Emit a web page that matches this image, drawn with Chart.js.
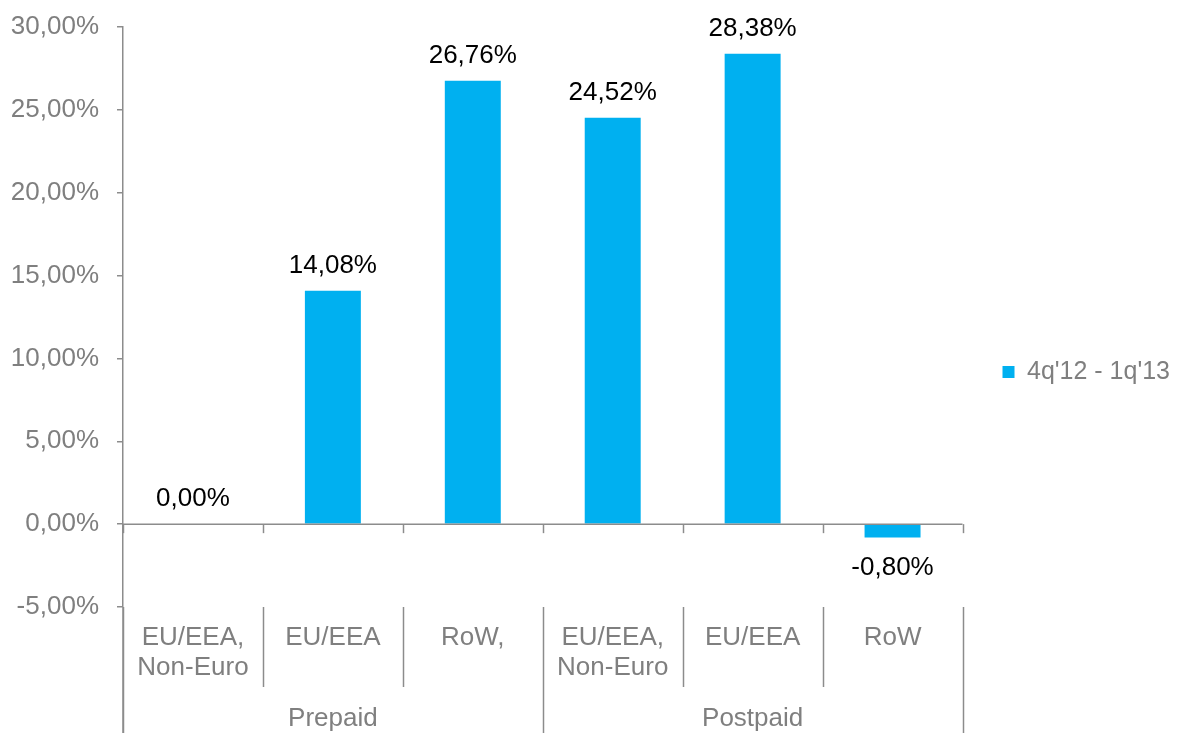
<!DOCTYPE html>
<html>
<head>
<meta charset="utf-8">
<script src="https://cdn.jsdelivr.net/npm/chart.js@4/dist/chart.umd.min.js"></script>
<style>
  body { margin: 0; background: #fff; }
  #wrap { width: 1180px; height: 733px; position: relative; }
</style>
</head>
<body>
<div id="wrap"><canvas id="chart"></canvas></div>
<script>
// categories (two-level axis)
const categories = [['EU/EEA,', 'Non-Euro'], ['EU/EEA'], ['RoW,'], ['EU/EEA,', 'Non-Euro'], ['EU/EEA'], ['RoW']]
const groups = ['Prepaid', 'Postpaid']
const groupSize = [3, 3]
const seriesName = "4q'12 - 1q'13"
const values = [0.00, 14.08, 26.76, 24.52, 28.38, -0.80]
const yTicks = { min: -5, max: 30, step: 5 }

const grey = '#7f7f7f'
const axisColor = '#8c8c8c'
const barColor = '#00B0F0'
const fontSize = 26

function pct(v) {
    return v.toFixed(2).replace('.', ',') + '%'
}

// draws the x axis at zero, the category table below, and the value labels
const tablePlugin = {
    id: 'tablePlugin',
    afterDatasetsDraw(chart) {
        const ctx = chart.ctx
        const x = chart.scales.x
        const y = chart.scales.y
        const area = chart.chartArea
        const y0 = y.getPixelForValue(0)
        const n = categories.length
        const bottom = chart.height

        const edge = (i) => {
            if (i === 0) return area.left
            if (i === n) return area.right
            return (x.getPixelForValue(i - 1) + x.getPixelForValue(i)) / 2
        }

        ctx.save()
        ctx.strokeStyle = axisColor
        ctx.lineWidth = 1.5
        // zero line
        ctx.beginPath()
        ctx.moveTo(area.left, y0)
        ctx.lineTo(area.right, y0)
        ctx.stroke()

        // group boundaries
        const groupEdges = [0]
        groupSize.forEach(s => groupEdges.push(groupEdges[groupEdges.length - 1] + s))

        for (let i = 0; i <= n; i++) {
            const px = Math.round(edge(i)) + 0.5
            ctx.beginPath()
            ctx.moveTo(px, y0)
            ctx.lineTo(px, y0 + 9)
            ctx.stroke()
            ctx.beginPath()
            ctx.moveTo(px, area.bottom)
            ctx.lineTo(px, groupEdges.includes(i) ? bottom : area.bottom + 80)
            ctx.stroke()
        }
        // left axis continues down the table
        ctx.beginPath()
        ctx.moveTo(area.left, area.bottom)
        ctx.lineTo(area.left, bottom)
        ctx.stroke()

        ctx.font = fontSize + 'px "Liberation Sans", Arial, sans-serif'
        ctx.fillStyle = grey
        ctx.textAlign = 'center'
        ctx.textBaseline = 'middle'
        categories.forEach((lines, i) => {
            const cx = x.getPixelForValue(i)
            lines.forEach((t, j) => {
                ctx.fillText(t, cx, area.bottom + 31 + j * 30)
            })
        })
        groups.forEach((g, k) => {
            const cx = (edge(groupEdges[k]) + edge(groupEdges[k + 1])) / 2
            ctx.fillText(g, cx, area.bottom + 112)
        })

        // value labels
        ctx.fillStyle = '#000'
        const meta = chart.getDatasetMeta(0)
        meta.data.forEach((bar, i) => {
            const v = values[i]
            if (v < 0) {
                ctx.fillText(pct(v), bar.x, y.getPixelForValue(v) + 30)
            } else {
                ctx.fillText(pct(v), bar.x, y.getPixelForValue(v) - 25)
            }
        })
        ctx.restore()
    }
}

Chart.defaults.font.family = '"Liberation Sans", Arial, sans-serif'
Chart.defaults.font.size = fontSize
Chart.defaults.color = grey

const ctx = document.getElementById('chart').getContext('2d')
const myChart = new Chart(ctx, {
    type: 'bar',
    data: {
        labels: categories.map(c => c.join(' ')),
        datasets: [{
            label: seriesName,
            data: values,
            backgroundColor: barColor,
            borderWidth: 0,
            barPercentage: 0.8,
            categoryPercentage: 0.5
        }]
    },
    options: {
        responsive: true,
        maintainAspectRatio: false,
        animation: false,
        layout: {
            padding: { top: 27, left: 0, right: 0, bottom: 16 }
        },
        plugins: {
            tooltip: { enabled: false },
            legend: {
                position: 'right',
                labels: {
                    boxWidth: 12,
                    boxHeight: 12,
                    padding: 40,
                    color: grey,
                    font: { size: 25 }
                }
            }
        },
        scales: {
            x: {
                grid: { display: false },
                border: { display: false },
                ticks: { display: false },
                afterFit(scale) { scale.height = 110 }
            },
            y: {
                min: yTicks.min,
                max: yTicks.max,
                afterFit(scale) {
                    scale.width = 123
                    scale.paddingTop = 0
                    scale.paddingBottom = 0
                },
                grid: {
                    drawOnChartArea: false,
                    drawTicks: true,
                    tickLength: 6,
                    color: axisColor,
                    lineWidth: 1.5
                },
                border: { display: true, color: axisColor, width: 1.5 },
                ticks: {
                    stepSize: yTicks.step,
                    padding: 18,
                    color: grey,
                    callback: (v) => pct(v)
                }
            }
        }
    },
    plugins: [tablePlugin]
})
</script>
</body>
</html>
